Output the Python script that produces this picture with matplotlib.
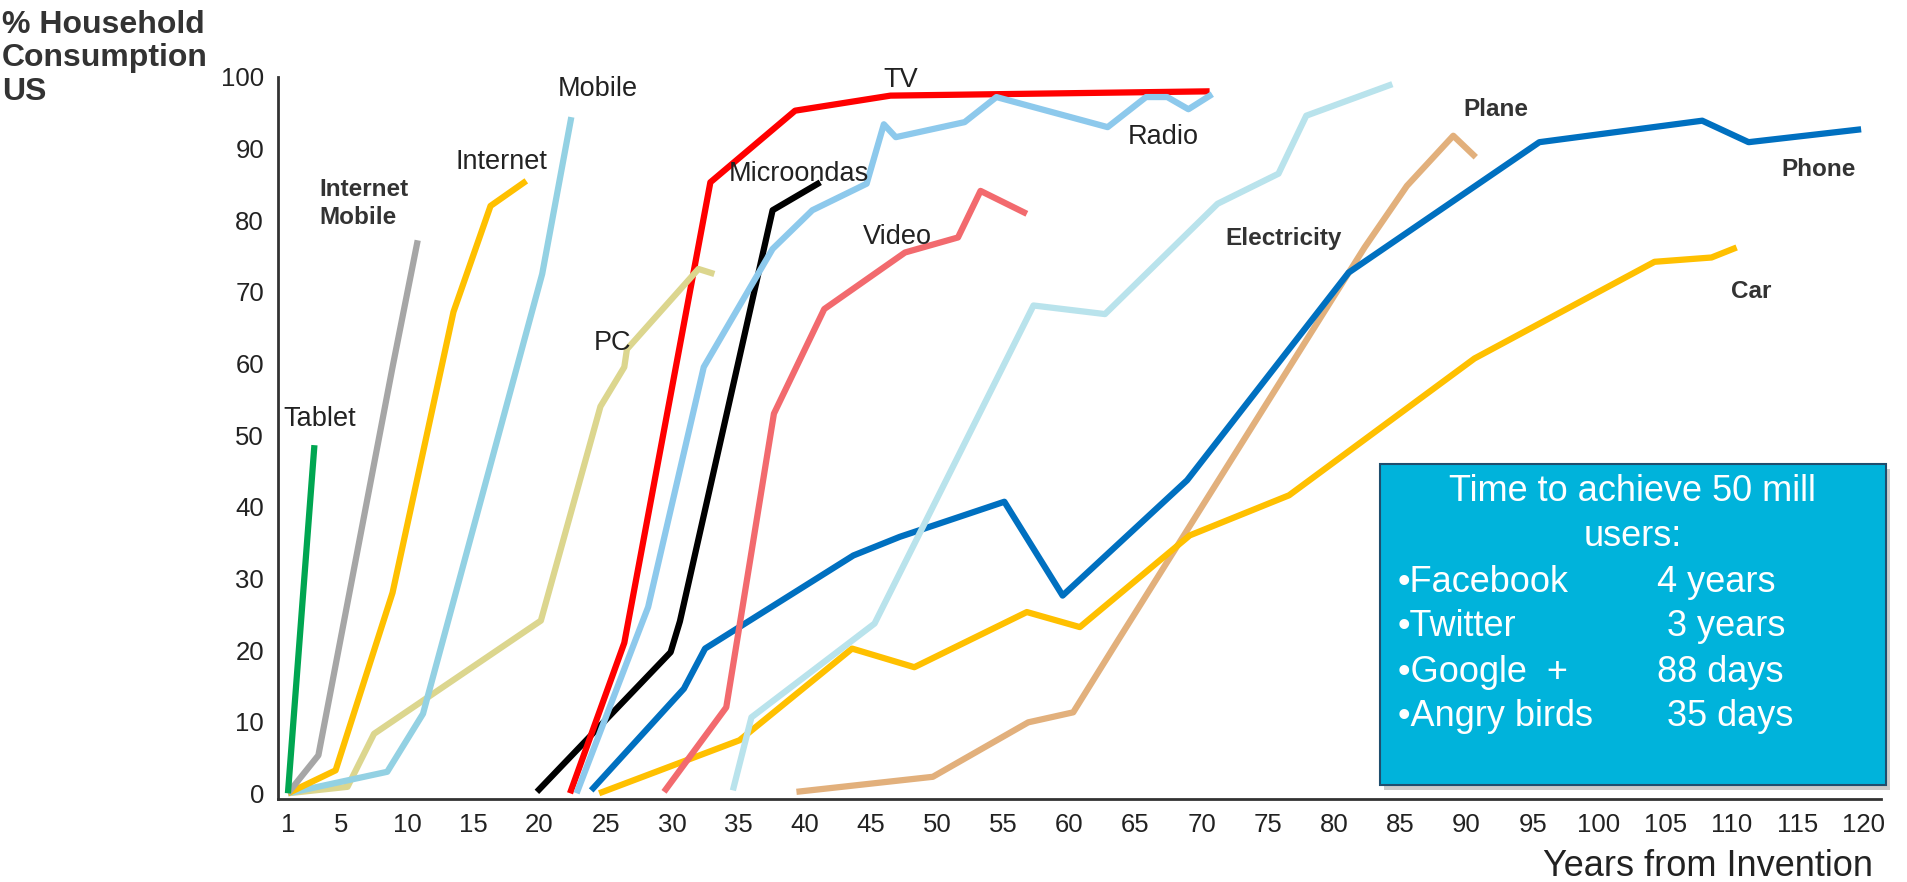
import matplotlib
matplotlib.use('Agg')
import matplotlib.pyplot as plt
import matplotlib.patches as mpatches

# years from invention / % household consumption (US)
tablet_x = [1, 3]
tablet_y = [0, 48.6]
imobile_x = [1, 3.3, 8.9, 10.8]
imobile_y = [0, 5.3, 59.5, 77.2]
internet_x = [1, 4.6, 8.9, 13.5, 16.3, 19]
internet_y = [0, 3.2, 28, 67.2, 82, 85.5]
mobile_x = [1, 5.5, 8.5, 11.2, 20.2, 22.4]
mobile_y = [0, 1.8, 3, 11.1, 72.5, 94.4]
pc_x = [1, 5.5, 7.5, 20.1, 24.6, 26.4, 26.6, 32, 33.2]
pc_y = [0, 0.9, 8.3, 24.1, 54, 59.5, 62, 73.2, 72.5]
tv_x = [22.3, 26.4, 32.9, 39.3, 46.5, 54.5, 70.6]
tv_y = [0, 21, 85.3, 95.3, 97.4, 97.6, 98]
radio_x = [22.8, 28.2, 32.4, 37.6, 40.6, 44.7, 46.0, 46.9, 52.1, 54.5, 62.9, 65.8, 67.4, 69, 70.8]
radio_y = [0, 26, 59.5, 76, 81.4, 85.1, 93.4, 91.6, 93.7, 97.2, 93, 97.2, 97.2, 95.5, 97.6]
micro_x = [19.8, 29.9, 30.6, 37.6, 41.2]
micro_y = [0.2, 19.7, 24, 81.4, 85.3]
video_x = [29.4, 34.1, 37.7, 41.5, 47.6, 51.6, 53.3, 56.8]
video_y = [0.2, 12, 53, 67.6, 75.5, 77.6, 84.1, 80.9]
elec_x = [34.6, 36, 45.3, 57.3, 62.7, 71.2, 75.8, 77.9, 84.4]
elec_y = [0.4, 10.6, 23.7, 68.1, 66.9, 82.3, 86.5, 94.6, 99]
phone_x = [23.9, 30.9, 32.5, 43.7, 47.2, 55.1, 59.5, 68.9, 81.1, 95.5, 107.8, 111.3, 119.8]
phone_y = [0.4, 14.6, 20.2, 33.2, 35.8, 40.7, 27.6, 43.7, 72.7, 90.9, 93.9, 90.9, 92.7]
car_x = [24.5, 35.1, 43.6, 48.3, 56.8, 60.8, 69.1, 76.6, 90.6, 104.2, 108.5, 110.4]
car_y = [0, 7.4, 20.2, 17.6, 25.3, 23.2, 36, 41.6, 60.7, 74.2, 74.8, 76.2]
plane_x = [39.4, 49.7, 56.9, 60.3, 63.7, 82.3, 85.5, 89, 90.7]
plane_y = [0.2, 2.3, 9.9, 11.3, 21.4, 76.2, 84.8, 91.8, 88.8]

xticks = [1, 5, 10, 15, 20, 25, 30, 35, 40, 45, 50, 55, 60, 65, 70, 75, 80, 85, 90, 95, 100, 105, 110, 115, 120]
yticks = [0, 10, 20, 30, 40, 50, 60, 70, 80, 90, 100]

box_rows = [('•Facebook', '4 years'), ('•Twitter', ' 3 years'),
            ('•Google  +', '88 days'), ('•Angry birds', ' 35 days')]

narrow = ['Liberation Sans Narrow', 'Liberation Sans', 'DejaVu Sans']
arial = ['Liberation Sans', 'DejaVu Sans']
plt.rcParams['font.family'] = arial

W, H = 1907, 882
fig = plt.figure(figsize=(W / 100, H / 100), dpi=100)
ax = fig.add_axes([278 / W, 1 - 799 / H, (1881 - 278) / W, (799 - 77) / H])


def fx(x):
    return x / W


def fy(y):
    return 1 - y / H


lw = 4.5
ax.plot(plane_x, plane_y, color='#E2B07C', lw=lw, solid_capstyle='butt')
ax.plot(car_x, car_y, color='#FFC000', lw=lw, solid_capstyle='butt')
ax.plot(phone_x, phone_y, color='#0070C0', lw=lw, solid_capstyle='butt')
ax.plot(elec_x, elec_y, color='#B9E3EC', lw=lw, solid_capstyle='butt')
ax.plot(video_x, video_y, color='#F26A6E', lw=lw, solid_capstyle='butt')
ax.plot(micro_x, micro_y, color='#000000', lw=lw, solid_capstyle='butt')
ax.plot(tv_x, tv_y, color='#FF0000', lw=lw, solid_capstyle='butt')
ax.plot(radio_x, radio_y, color='#8DC9EC', lw=lw, solid_capstyle='butt')
ax.plot(pc_x, pc_y, color='#DCD68E', lw=lw, solid_capstyle='butt')
ax.plot(mobile_x, mobile_y, color='#93D1E3', lw=lw, solid_capstyle='butt')
ax.plot(internet_x, internet_y, color='#FFC000', lw=lw, solid_capstyle='butt')
ax.plot(imobile_x, imobile_y, color='#A6A6A6', lw=lw, solid_capstyle='butt')
ax.plot(tablet_x, tablet_y, color='#00A651', lw=lw, solid_capstyle='butt')

ax.set_xlim(0.25, 121.3)
ax.set_ylim(-0.8, 100)
ax.set_xticks(xticks)
ax.set_yticks(yticks)
ax.tick_params(length=0, pad=10, labelsize=18.5, labelcolor='#222222')
for lab in ax.get_xticklabels() + ax.get_yticklabels():
    lab.set_family(narrow)
for s in ['top', 'right']:
    ax.spines[s].set_visible(False)
for s in ['left', 'bottom']:
    ax.spines[s].set_linewidth(2)
    ax.spines[s].set_color('#333333')

# series labels
norm = dict(fontsize=19.5, family=narrow, color='#222222', ha='center', va='center')
bold = dict(fontsize=17.5, family=arial, fontweight='bold', color='#333333', ha='center', va='center')
ax.text(3.4, 52.3, 'Tablet', **norm)
ax.text(17.1, 88.1, 'Internet', **norm)
ax.text(24.4, 98.3, 'Mobile', **norm)
ax.text(25.5, 62.8, 'PC', **norm)
ax.text(47.3, 99.6, 'TV', **norm)
ax.text(39.6, 86.4, 'Microondas', **norm)
ax.text(47.0, 77.7, 'Video', **norm)
ax.text(67.1, 91.6, 'Radio', **norm)
ax.text(76.2, 77.4, 'Electricity', **bold)
ax.text(92.2, 95.4, 'Plane', **bold)
ax.text(116.6, 87.1, 'Phone', **bold)
ax.text(111.5, 70.1, 'Car', **bold)
ax.text(3.4, 82.3, 'Internet\nMobile', fontsize=17.5, fontweight='bold', color='#333333',
        ha='left', va='center', linespacing=1.3,
        bbox=dict(facecolor='white', edgecolor='none', pad=4))

fig.text(fx(2), fy(10), '% Household\nConsumption\nUS', fontsize=23, fontweight='bold',
         color='#333333', ha='left', va='top', linespacing=1.15)
fig.text(fx(1708), fy(866), 'Years from Invention', fontsize=26, color='#222222',
         ha='center', va='center')

# info box
shadow = mpatches.Rectangle((fx(1384), fy(790)), (1886 - 1380) / W, (785 - 464) / H,
                            transform=fig.transFigure, facecolor='#999999', alpha=0.5,
                            edgecolor='none', zorder=5)
box = mpatches.Rectangle((fx(1380), fy(785)), (1886 - 1380) / W, (785 - 464) / H,
                         transform=fig.transFigure, facecolor='#00B3DB',
                         edgecolor='#1F4E6E', lw=1.5, zorder=6)
fig.add_artist(shadow)
fig.add_artist(box)
fig.text(fx(1632), fy(492), 'Time to achieve 50 mill', fontsize=26, color='white',
         ha='center', va='center', zorder=7)
fig.text(fx(1633), fy(537), 'users:', fontsize=26, color='white',
         ha='center', va='center', zorder=7)
for i, (name, val) in enumerate(box_rows):
    y = 582 + i * 45
    fig.text(fx(1398), fy(y), name, fontsize=26, color='white', ha='left', va='center', zorder=7)
    fig.text(fx(1657), fy(y), val, fontsize=26, color='white', ha='left', va='center', zorder=7)

fig.savefig('out.png', dpi=100)
